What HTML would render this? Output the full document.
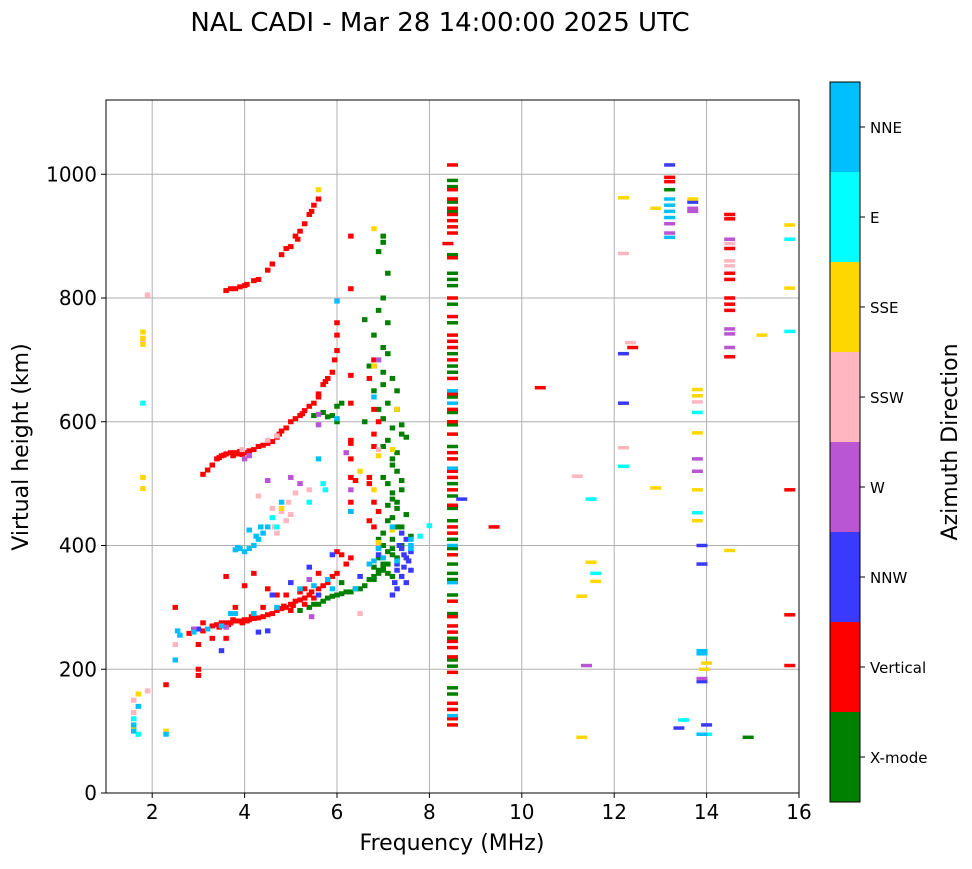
<!DOCTYPE html>
<html><head><meta charset="utf-8"><style>
body{margin:0;background:#fff;width:972px;height:865px;overflow:hidden;font-family:"DejaVu Sans","Liberation Sans",sans-serif}
svg text{font-family:"DejaVu Sans","Liberation Sans",sans-serif}
</style></head><body>
<svg id="chart" width="972" height="865" viewBox="0 0 972 865" xmlns="http://www.w3.org/2000/svg">
<text x="440" y="31" font-size="26" text-anchor="middle">NAL CADI - Mar 28 14:00:00 2025 UTC</text>
<g id="grid"></g>
<g id="marks"></g>
<rect x="106" y="100" width="693" height="693" fill="none" stroke="#000" stroke-width="1"/>
<g id="axes"></g>
<text x="452" y="850" font-size="22" text-anchor="middle">Frequency (MHz)</text>
<text transform="translate(28,447) rotate(-90)" font-size="22" text-anchor="middle">Virtual height (km)</text>
<g id="cbar"></g>
<text transform="translate(957,442) rotate(-90)" font-size="22" text-anchor="middle">Azimuth Direction</text>
</svg>
<script>
const xTicks=[2,4,6,8,10,12,14,16];
const yTicks=[0,200,400,600,800,1000];
const categories=["X-mode","Vertical","NNW","W","SSW","SSE","E","NNE"];
const catColors=["#008000","#ff0000","#3a3aff","#ba55d3","#ffb6c1","#ffd700","#00ffff","#00bfff"];
const xmode=[[7.0,900],[7.0,890],[6.9,875],[7.1,840],[7.0,800],[6.9,780],[7.1,760],[6.8,740],[7.0,720],[7.1,710],[7.2,670],[7.3,650],[7.1,630],[7.3,620],[7.0,605],[7.2,590],[7.4,580],[7.5,575],[7.0,560],[7.3,550],[7.2,530],[7.3,520],[7.4,505],[7.1,500],[7.4,490],[7.2,475],[7.3,460],[7.5,450],[7.1,440],[7.3,430],[7.0,420],[7.2,410],[7.4,400],[7.1,390],[7.3,380],[7.0,370],[6.9,360],[7.1,355],[6.8,345],[6.6,335],[6.4,330],[6.2,325],[6.0,320],[5.8,315],[5.6,305],[5.4,300],[5.2,295],[6.0,600],[5.9,610],[5.7,615],[5.5,610],[6.1,630],[7.2,350],[6.9,380],
[6.7,345],[6.8,350],[6.9,355],[7.0,360],[7.0,365],[7.1,370],[6.8,365],[7.2,395],[7.0,400],[6.9,410],[7.2,445],[7.1,465],[7.3,470],[7.2,485],[7.0,510],[7.2,540],[7.1,570],[7.4,595],[6.9,620],[6.8,650],[7.0,680],[6.6,765],[6.7,690],[7.0,660],[6.5,330],[6.3,325],[6.1,322],[5.9,318],[5.7,310],[5.5,305],[6.0,625],[5.8,608],[6.1,340],[7.4,430],[7.6,415],[6.6,600],[7.2,385],
[8.5,990],[8.5,980],[8.5,955],[8.5,940],[8.5,870],[8.5,840],[8.5,830],[8.5,820],[8.5,790],[8.5,760],[8.5,710],[8.5,690],[8.5,680],[8.5,640],[8.5,615],[8.5,595],[8.5,560],[8.5,500],[8.5,480],[8.5,460],[8.5,440],[8.5,410],[8.5,395],[8.5,370],[8.5,355],[8.5,345],[8.5,320],[8.5,290],[8.5,250],[8.5,215],[8.5,205],[8.5,170],[8.5,160],[13.2,975],[14.9,90]];
const vertical=[[3.7,815],[3.8,815],[3.9,818],[4.0,820],[4.2,828],[4.3,830],[4.5,845],[4.6,855],[4.8,870],[4.9,880],[5.0,883],[5.1,900],[5.2,908],[5.3,920],[5.4,935],[5.5,950],[5.6,960],[5.15,895],[5.45,940],[4.05,822],[3.6,812],
[3.1,515],[3.2,522],[3.3,530],[3.4,540],[3.5,545],[3.6,548],[3.7,550],[3.8,550],[3.9,552],[4.0,550],[4.1,553],[4.2,555],[4.3,560],[4.5,565],[4.6,568],[4.7,575],[4.8,585],[4.9,590],[5.0,600],[5.1,605],[5.2,610],[5.3,618],[5.4,625],[5.5,630],[5.6,640],[5.7,660],[5.8,670],[5.9,680],[5.95,700],[6.0,715],[6.0,740],[6.0,760],[3.75,545],[3.85,548],[3.95,547],[4.4,562],[4.75,580],[5.25,613],[5.6,645],[5.75,665],[3.45,542],[3.55,546],
[6.3,900],[6.3,815],[6.3,675],[6.3,630],[6.3,570],[6.3,540],[6.3,510],[6.3,470],[6.3,455],[6.3,380],[6.3,565],[6.4,505],[6.8,700],[6.8,690],[6.7,670],[6.8,620],[6.9,600],[6.8,580],[6.8,560],[6.7,510],[6.7,500],[6.8,470],[6.9,455],[6.8,430],[6.7,440],[6.0,390],[6.1,385],
[3.3,270],[3.4,272],[3.5,275],[3.6,275],[3.7,275],[3.8,278],[3.9,278],[4.0,280],[4.1,280],[4.2,282],[4.4,285],[4.6,290],[4.7,295],[4.8,298],[4.9,300],[5.0,305],[5.1,310],[5.3,315],[5.4,320],[5.6,330],[5.8,340],[6.0,355],[6.2,370],[3.45,268],[3.55,272],[3.65,272],[3.75,280],[3.95,275],[4.05,278],[4.15,285],[4.3,283],[4.5,288],[4.85,302],[5.05,303],[5.2,312],[5.45,325],[5.7,335],[5.9,350],[5.2,325],[5.3,305],[5.5,315],
[2.3,175],[2.5,300],[3.0,240],[3.0,200],[3.0,190],[3.3,250],[3.6,250],[4.2,355],[4.5,330],[3.6,350],[4.0,335],[4.9,320],[5.3,330],[5.0,295],[4.4,300],[3.8,300],[2.8,258],[3.1,262],[4.7,320],[3.1,275],[5.6,355],
[8.5,1015],[8.5,975],[8.5,960],[8.5,945],[8.5,935],[8.5,925],[8.5,915],[8.5,905],[8.4,888],[8.5,865],[8.5,800],[8.5,770],[8.5,740],[8.5,730],[8.5,720],[8.5,700],[8.5,670],[8.5,645],[8.5,620],[8.5,600],[8.5,580],[8.5,550],[8.5,540],[8.5,520],[8.5,510],[8.5,490],[8.5,465],[8.5,430],[8.5,420],[8.5,385],[8.5,310],[8.5,285],[8.5,270],[8.5,260],[8.5,245],[8.5,235],[8.5,220],[8.5,195],[8.5,145],[8.5,135],[8.5,120],[8.5,110],[10.4,655],[9.4,430],[13.2,995],[13.2,988],[14.5,935],[14.5,928],[14.5,880],[14.5,840],[14.5,830],[14.5,800],[14.5,790],[14.5,780],[14.5,705],[12.4,720],[15.8,490],[15.8,288],[15.8,206]];
const nnw=[[7.4,420],[7.5,410],[7.4,395],[7.6,390],[7.5,380],[7.3,370],[7.6,360],[7.4,350],[7.5,340],[7.3,330],[7.2,320],[6.5,350],[5.9,385],[5.4,365],[5.0,340],[4.6,320],[4.3,260],[3.0,265],[3.5,230],[7.35,400],[7.45,385],[7.55,375],[7.3,360],[7.45,365],[7.25,340],[6.9,385],[5.6,320],[4.5,262],[8.7,475],[13.2,1015],[13.7,955],[12.2,710],[12.2,630],[13.9,400],[13.9,370],[14.0,110],[13.4,105],[13.9,180]];
const w=[[4.5,505],[5.0,510],[5.2,500],[5.6,595],[6.3,490],[6.9,700],[6.2,550],[2.9,265],[3.6,268],[5.4,345],[4.0,540],[4.1,545],[5.6,612],[5.45,285],[13.2,920],[13.2,905],[13.7,945],[13.7,940],[14.5,895],[14.5,750],[14.5,742],[14.5,720],[13.8,540],[13.8,520],[11.4,206],[13.9,185]];
const ssw=[[1.9,805],[1.6,150],[1.6,130],[1.9,165],[2.5,240],[4.3,480],[4.6,460],[4.8,455],[5.0,450],[4.9,440],[4.7,420],[5.1,485],[5.4,490],[6.5,290],[4.5,570],[4.7,577],[1.8,730],[4.65,430],[4.95,470],[6.9,555],[3.95,555],[12.2,872],[12.2,558],[11.2,512],[13.8,632],[14.5,888],[14.5,860],[14.5,852],[12.35,728]];
const sse=[[1.8,745],[1.8,735],[1.8,725],[1.8,510],[1.8,492],[1.7,160],[1.6,105],[2.3,100],[5.6,975],[6.8,912],[6.8,690],[6.9,545],[7.2,555],[6.5,520],[6.8,490],[7.3,620],[4.8,460],[7.2,425],[6.9,405],[12.2,962],[12.9,945],[13.7,960],[15.8,918],[15.8,816],[15.2,740],[12.9,493],[13.8,652],[13.8,642],[13.8,582],[13.8,490],[13.8,440],[14.5,392],[11.3,90],[11.5,373],[11.6,342],[11.3,318],[14.0,210],[13.95,200]];
const e=[[1.7,95],[1.6,120],[1.8,630],[4.6,445],[4.7,430],[5.4,470],[7.8,415],[8.0,432],[5.7,500],[5.75,490],[13.5,118],[14.0,95],[15.8,895],[15.8,746],[13.8,615],[13.8,453],[11.5,475],[11.6,355],[12.2,528]];
const nne=[[4.1,395],[4.0,390],[3.8,393],[4.2,400],[4.3,410],[4.4,420],[4.5,430],[4.8,470],[4.1,425],[5.6,540],[6.0,605],[6.3,455],[6.8,640],[7.2,430],[7.6,410],[7.6,400],[7.0,380],[6.7,370],[6.4,330],[5.8,345],[5.2,330],[4.7,300],[4.2,290],[3.8,290],[3.5,270],[3.2,265],[2.9,260],[2.6,255],[2.5,215],[1.6,110],[1.7,140],[1.6,100],[2.3,95],[6.0,795],[3.9,395],[3.85,397],[4.35,430],[4.25,415],[6.9,395],[6.8,375],[7.6,395],[5.5,335],[5.9,330],[3.7,290],[2.55,262],[8.5,650],[8.5,630],[8.5,525],[8.5,400],[8.5,340],[8.5,125],[13.2,960],[13.2,950],[13.2,940],[13.2,930],[13.2,898],[13.9,230],[13.9,225],[13.9,95],[7.3,375],[6.9,395]];
const series=[xmode,vertical,nnw,w,ssw,sse,e,nne];

const X0=106,X1=799,Y0=793,Y1=100,FMIN=1,FMAX=16,HMIN=0,HMAX=1120;
const xs=f=>X0+(f-FMIN)/(FMAX-FMIN)*(X1-X0);
const ys=h=>Y0-(h-HMIN)/(HMAX-HMIN)*(Y0-Y1);
const NS="http://www.w3.org/2000/svg";
function mk(tag,attrs){const el=document.createElementNS(NS,tag);for(const k in attrs)el.setAttribute(k,attrs[k]);return el;}
const grid=document.getElementById('grid'),axes=document.getElementById('axes'),marks=document.getElementById('marks'),cbar=document.getElementById('cbar');
xTicks.forEach(t=>{const x=xs(t);
 const g=mk('line',{x1:x,x2:x,y1:Y1,y2:Y0,stroke:'#b0b0b0','stroke-width':1});
 
 grid.appendChild(g);
 const tk=mk('line',{x1:x,x2:x,y1:Y0,y2:Y0+5,stroke:'#000'});
 
 axes.appendChild(tk);
 const tx=mk('text',{x:x,y:Y0+26,'font-size':20,'text-anchor':'middle'});tx.textContent=t;
 
 axes.appendChild(tx);});
yTicks.forEach(t=>{const y=ys(t);
 const g=mk('line',{x1:X0,x2:X1,y1:y,y2:y,stroke:'#b0b0b0','stroke-width':1});
 
 grid.appendChild(g);
 const tk=mk('line',{x1:X0-5,x2:X0,y1:y,y2:y,stroke:'#000'});
 
 axes.appendChild(tk);
 const tx=mk('text',{x:X0-9,y:y+7,'font-size':20,'text-anchor':'end'});tx.textContent=t;
 
 axes.appendChild(tx);});
series.forEach((pts,ci)=>{pts.forEach(p=>{
 const wide=p[0]>=8.2;const wpx=wide?11:5.5;const hpx=wide?3.5:5;
 const r=mk('rect',{x:xs(p[0])-wpx/2,y:ys(p[1])-hpx/2,width:wpx,height:hpx,fill:catColors[ci]});
 
 marks.appendChild(r);});});
const CX=830,CW=30,CT=82,CB=802,seg=(CB-CT)/categories.length;
categories.forEach((c,i)=>{const y=CB-(i+1)*seg;
 const r=mk('rect',{x:CX,y:y,width:CW,height:seg,fill:catColors[i]});
 
 cbar.appendChild(r);
 const tk=mk('line',{x1:CX+CW,x2:CX+CW+5,y1:y+seg/2,y2:y+seg/2,stroke:'#000'});
 
 cbar.appendChild(tk);
 const tx=mk('text',{x:CX+CW+10,y:y+seg/2+6,'font-size':15});tx.textContent=c;
 
 cbar.appendChild(tx);});
const fr=mk('rect',{x:CX,y:CT,width:CW,height:CB-CT,fill:'none',stroke:'#000'});

cbar.appendChild(fr);
</script>
</body></html>
